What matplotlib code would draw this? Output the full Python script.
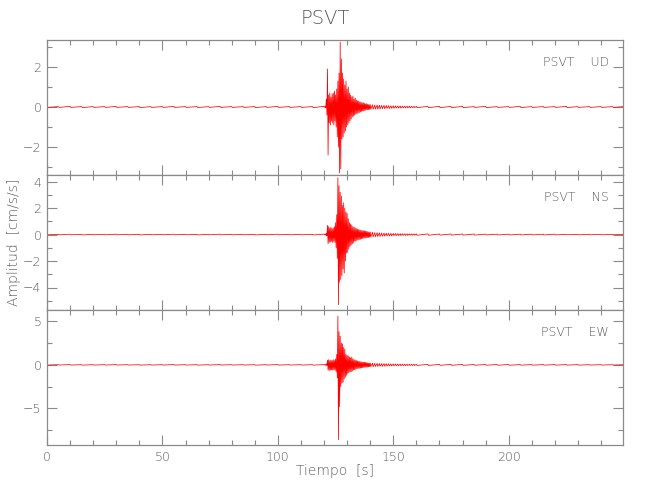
import numpy as np
import matplotlib
matplotlib.use("Agg")
import matplotlib.pyplot as plt
from matplotlib.ticker import MultipleLocator

plt.rcParams['font.family'] = ['DejaVu Sans']
plt.rcParams['font.weight'] = 200
plt.rcParams['axes.labelweight'] = 200

station = "PSVT"
components = ["UD", "NS", "EW"]

# time grids (s): pre-event, main shaking (0.5 s bins), coda (1 s), tail (5 s)
t_pre = np.arange(0, 120.1, 5)
t_main = np.arange(120.5, 140.01, 0.5)
t_coda = np.arange(141, 160.1, 1)
t_tail = np.arange(165, 250.1, 5)

pre_hi = [0.02, 0.02, 0.03, 0.02, 0.02, 0.02, 0.03, 0.02, 0.02, 0.02, 0.02, 0.03, 0.02,
          0.02, 0.02, 0.03, 0.02, 0.02, 0.02, 0.02, 0.03, 0.02, 0.02, 0.02, 0.03]
pre_lo = [-0.02, -0.02, -0.02, -0.03, -0.02, -0.02, -0.02, -0.02, -0.03, -0.02, -0.02, -0.02, -0.02,
          -0.03, -0.02, -0.02, -0.02, -0.02, -0.03, -0.02, -0.02, -0.02, -0.02, -0.03, -0.02]

# per-bin maximum / minimum (cm/s/s)
ud_hi = [0.03, 0.4, 1.9, 0.6, 0.7, 0.5, 0.65, 0.7, 0.8, 0.6,
         0.9, 1.3, 1.7, 3.25, 2.4, 1.7, 1.4, 1.1, 1.3, 0.9,
         1.0, 0.7, 0.6, 0.5, 0.55, 0.4, 0.45, 0.35, 0.3, 0.3,
         0.25, 0.25, 0.2, 0.22, 0.18, 0.15, 0.17, 0.14, 0.12, 0.12]
ud_lo = [-0.03, -0.4, -2.4, -0.8, -0.9, -0.7, -0.8, -0.9, -0.7, -1.0,
         -1.5, -2.0, -3.3, -3.1, -1.6, -1.5, -1.3, -1.2, -1.0, -0.9,
         -0.8, -0.7, -0.6, -0.5, -0.45, -0.4, -0.35, -0.35, -0.3, -0.28,
         -0.25, -0.22, -0.2, -0.2, -0.17, -0.15, -0.14, -0.13, -0.12, -0.11]
ud_coda = [0.11, 0.1, 0.1, 0.09, 0.08, 0.08, 0.07, 0.07, 0.06, 0.06,
           0.05, 0.05, 0.05, 0.04, 0.04, 0.04, 0.04, 0.03, 0.03, 0.03]
ud_tail = [0.03, 0.03, 0.03, 0.03, 0.02, 0.03, 0.02, 0.02, 0.03,
           0.02, 0.02, 0.02, 0.03, 0.02, 0.02, 0.02, 0.02, 0.02]

ns_hi = [0.05, 0.1, 0.7, 0.6, 0.5, 0.55, 0.45, 0.5, 0.6, 0.9,
         1.5, 4.3, 3.7, 3.2, 2.9, 2.2, 2.4, 2.0, 1.7, 1.6,
         1.2, 0.9, 0.8, 0.7, 0.6, 0.55, 0.5, 0.45, 0.4, 0.38,
         0.35, 0.33, 0.3, 0.3, 0.28, 0.25, 0.24, 0.22, 0.2, 0.18]
ns_lo = [-0.05, -0.1, -0.7, -0.6, -0.55, -0.5, -0.6, -0.5, -0.6, -1.0,
         -1.8, -5.3, -3.6, -3.4, -3.1, -2.6, -2.9, -2.0, -1.4, -1.35,
         -1.1, -0.9, -0.8, -0.7, -0.6, -0.5, -0.5, -0.45, -0.4, -0.38,
         -0.35, -0.32, -0.3, -0.28, -0.26, -0.25, -0.23, -0.22, -0.2, -0.18]
ns_coda = [0.17, 0.15, 0.14, 0.13, 0.12, 0.11, 0.1, 0.1, 0.09, 0.08,
           0.08, 0.07, 0.07, 0.06, 0.06, 0.06, 0.05, 0.05, 0.05, 0.05]
ns_tail = [0.05, 0.04, 0.04, 0.04, 0.04, 0.03, 0.03, 0.03, 0.03,
           0.03, 0.03, 0.03, 0.02, 0.02, 0.02, 0.02, 0.02, 0.02]

ew_hi = [0.05, 0.1, 0.55, 0.6, 0.5, 0.55, 0.5, 0.6, 0.5, 0.7,
         1.2, 5.6, 3.8, 3.3, 2.5, 2.4, 2.0, 1.8, 1.2, 1.1,
         1.0, 0.9, 0.8, 0.9, 0.7, 0.6, 0.55, 0.5, 0.45, 0.4,
         0.4, 0.35, 0.33, 0.3, 0.3, 0.28, 0.25, 0.23, 0.22, 0.2]
ew_lo = [-0.05, -0.1, -0.6, -0.65, -0.6, -0.55, -0.6, -0.55, -0.6, -0.8,
         -1.5, -8.6, -4.8, -2.5, -2.1, -2.0, -1.6, -1.4, -1.2, -1.0,
         -0.9, -0.8, -0.8, -0.7, -0.6, -0.55, -0.5, -0.45, -0.42, -0.4,
         -0.38, -0.35, -0.32, -0.3, -0.28, -0.26, -0.25, -0.23, -0.21, -0.2]
ew_coda = [0.2, 0.18, 0.17, 0.16, 0.15, 0.14, 0.13, 0.12, 0.11, 0.1,
           0.1, 0.09, 0.09, 0.08, 0.08, 0.07, 0.07, 0.07, 0.06, 0.06]
ew_tail = [0.06, 0.05, 0.05, 0.05, 0.04, 0.04, 0.04, 0.04, 0.03,
           0.03, 0.03, 0.03, 0.03, 0.03, 0.02, 0.02, 0.02, 0.02]

traces = [
    (ud_hi, ud_lo, ud_coda, ud_tail),
    (ns_hi, ns_lo, ns_coda, ns_tail),
    (ew_hi, ew_lo, ew_coda, ew_tail),
]
ylims = [(-3.4, 3.35), (-5.7, 4.5), (-9.2, 6.3)]
ymajor = [2, 2, 5]
yminor = [1, 1, 2.5]

grey = "#8a8a8a"
txt = "#5a5a5a"

fig = plt.figure(figsize=(6.5, 5), dpi=100)
left, width = 47 / 650, 576 / 650
tops = [40, 175, 310]
h = 135 / 500

for i, (hi, lo, coda, tail) in enumerate(traces):
    bottom = 1 - (tops[i] + 135) / 500
    ax = fig.add_axes([left, bottom, width, h])

    t = np.concatenate([t_pre, t_main, t_coda, t_tail])
    hi_all = np.concatenate([pre_hi, hi, coda, tail])
    lo_all = np.concatenate([pre_lo, lo, -np.array(coda) * 1.05, -np.array(tail)])
    # min-max zigzag like a decimated seismogram
    tx = np.column_stack([t, t + 0.25]).ravel()
    ty = np.column_stack([hi_all, lo_all]).ravel()
    ax.plot(tx, ty, color="red", lw=0.55)

    ax.set_xlim(0, 249.5)
    ax.set_ylim(*ylims[i])
    ax.xaxis.set_major_locator(MultipleLocator(50))
    ax.xaxis.set_minor_locator(MultipleLocator(10))
    ax.yaxis.set_major_locator(MultipleLocator(ymajor[i]))
    ax.yaxis.set_minor_locator(MultipleLocator(yminor[i]))
    ax.tick_params(which="both", direction="in", top=True, right=True,
                   colors=grey, labelcolor=txt, labelsize=9, width=0.8)
    ax.tick_params(which="major", length=7, pad=4)
    ax.tick_params(which="minor", length=3.5)
    for s in ax.spines.values():
        s.set_color(grey)
        s.set_linewidth(0.9)
    if i < 2:
        ax.tick_params(labelbottom=False)
    else:
        ax.set_xlabel("Tiempo  [s]", color=txt, fontsize=10, labelpad=1)
    if i == 1:
        ax.set_ylabel("Amplitud  [cm/s/s]", color=txt, fontsize=10)
        ax.yaxis.set_label_coords(-0.045, 0.5)
    ax.text(0.976, 0.84, station + "    " + components[i], transform=ax.transAxes,
            ha="right", va="center", color=txt, fontsize=9)

fig.text(0.5, 0.962, station, ha="center", va="center", color=txt, fontsize=14)

fig.savefig("out.png", dpi=100, facecolor="white")
plt.close(fig)
